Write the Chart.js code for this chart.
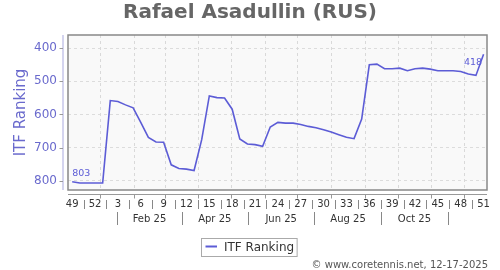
<!DOCTYPE html>
<html><head><meta charset="utf-8">
<script src="https://cdn.jsdelivr.net/npm/chart.js@4/dist/chart.umd.min.js"></script>
<style>html,body{margin:0;padding:0;background:#fff}canvas{display:block}</style>
</head><body>
<canvas id="c" width="500" height="270"></canvas>
<script>
const titleText = 'Rafael Asadullin (RUS)';
const seriesLabel = 'ITF Ranking';
const footerText = '\u00a9 www.coretennis.net, 12-17-2025';
const weekLabels = ['49','52','3','6','9','12','15','18','21','24','27','30','33','36','39','42','45','48','51'];
const rankings = [803,807,807,807,807,558,561,571,580,624,669,683,684,752,763,765,769,676,544,549,550,584,674,689,691,696,638,624,626,626,630,636,640,646,653,661,669,673,614,450,448,462,462,460,468,462,460,463,468,468,468,470,478,482,418];
const yTicks = [400,500,600,700,800];
const monthLabels = ['Feb 25','Apr 25','Jun 25','Aug 25','Oct 25'];
const labelMonthIdx = [1,3,5,7,9];
const sepMonthIdx = [0,2,4,6,8,10];
const firstPointDate = Date.UTC(2024,11,6);
const WEEK = 7*86400000;
function weekPos(m){ return (Date.UTC(2025,m,1)-firstPointDate)/WEEK; }
function monthCenter(m){ return (weekPos(m)+weekPos(m+1))/2; }

const FONT = 'DejaVu Sans';
const LINE = '#5c5cd6';
const PURPLE = '#6a6acd';

const decor = {
  id:'decor',
  beforeDraw(chart){
    const {ctx, chartArea:a} = chart;
    ctx.save(); ctx.fillStyle='#f9f9f9'; ctx.fillRect(a.left,a.top,a.width,a.height); ctx.restore();
  },
  beforeDatasetsDraw(chart){
    const {ctx, chartArea:a, scales:{x}} = chart;
    ctx.save(); ctx.strokeStyle='#d9d9d9'; ctx.lineWidth=1; ctx.setLineDash([3,3]);
    for (let m=0;m<12;m++){
      const px = Math.round(x.getPixelForValue(weekPos(m)))+0.5;
      ctx.beginPath(); ctx.moveTo(px,a.top); ctx.lineTo(px,a.bottom); ctx.stroke();
    }
    ctx.restore();
  },
  afterDraw(chart){
    const {ctx, chartArea:a, scales:{x,y}} = chart;
    const line=(x1,y1,x2,y2)=>{ctx.beginPath();ctx.moveTo(x1,y1);ctx.lineTo(x2,y2);ctx.stroke();};
    ctx.save();
    // frame
    ctx.strokeStyle='#888'; ctx.lineWidth=1.5; ctx.strokeRect(a.left,a.top,a.width,a.height);
    // y axis
    const yx = a.left-5;
    ctx.strokeStyle='#b8b8e4'; ctx.lineWidth=1.2; line(yx,a.top,yx,a.bottom);
    ctx.strokeStyle='#999'; ctx.lineWidth=1;
    yTicks.forEach(v=>{const py=Math.round(y.getPixelForValue(v))+0.5; line(yx-3.5,py,yx,py);});
    // x axis
    const xy = a.bottom+4.5;
    ctx.strokeStyle='#999'; ctx.lineWidth=1; line(a.left,xy,a.right,xy);
    for (let m=0;m<12;m++){ const px=Math.round(x.getPixelForValue(weekPos(m)))+0.5; line(px,xy,px,xy+4); }
    // week separators
    ctx.strokeStyle='#888';
    for (let k=0;k<weekLabels.length-1;k++){ const px=Math.round(x.getPixelForValue(k*3+1.5))+0.5; line(px,200,px,209); }
    // month separators and labels
    sepMonthIdx.forEach(m=>{ const px=Math.round(x.getPixelForValue(monthCenter(m)))+0.5; line(px,212,px,225); });
    ctx.fillStyle='#333'; ctx.font='10px "'+FONT+'"'; ctx.textAlign='center'; ctx.textBaseline='middle';
    labelMonthIdx.forEach((m,i)=>{ ctx.fillText(monthLabels[i], x.getPixelForValue(monthCenter(m)), 219); });
    // point labels
    const pts = chart.getDatasetMeta(0).data;
    ctx.fillStyle=LINE; ctx.font='9.5px "'+FONT+'"';
    const p0=pts[0], pN=pts[pts.length-1];
    ctx.textAlign='left'; ctx.fillText(String(rankings[0]), p0.x, p0.y-8.5);
    ctx.textAlign='right'; ctx.fillText(String(rankings[rankings.length-1]), pN.x-1.5, pN.y+8.5);
    // legend
    ctx.font='12px "'+FONT+'"'; ctx.textAlign='left';
    const tw = ctx.measureText(seriesLabel).width;
    const bx=201.5, by=238.5, bw=(224-bx)+tw+3, bh=18;
    ctx.fillStyle='#fff'; ctx.fillRect(bx,by,bw,bh);
    ctx.strokeStyle='#aaa'; ctx.lineWidth=1; ctx.strokeRect(bx,by,bw,bh);
    ctx.strokeStyle=LINE; ctx.lineWidth=2; line(205.5,246.5,217,246.5);
    ctx.fillStyle='#333'; ctx.fillText(seriesLabel, 224, 247.5);
    // footer
    ctx.font='10px "'+FONT+'"'; ctx.fillStyle='#555'; ctx.textAlign='right';
    ctx.fillText(footerText, 488, 265.5);
    ctx.restore();
  }
};

new Chart(document.getElementById('c'), {
  type:'line',
  data:{ datasets:[{ label:seriesLabel, data:rankings.map((v,i)=>({x:i,y:v})), borderColor:LINE, backgroundColor:LINE, borderWidth:1.6, pointRadius:0, tension:0, fill:false }] },
  options:{
    responsive:false, animation:false, devicePixelRatio:1,
    layout:{padding:0},
    plugins:{
      legend:{display:false}, tooltip:{enabled:false},
      title:{display:true, text:titleText, color:'#666', font:{family:FONT,size:20,weight:'bold'}, padding:{top:1,bottom:10}}
    },
    scales:{
      x:{ type:'linear', min:-0.55, max:54.45,
          afterBuildTicks(s){ s.ticks = weekLabels.map((_,k)=>({value:k*3})); },
          ticks:{ callback:(v,i)=>weekLabels[i], autoSkip:false, maxRotation:0, font:{family:FONT,size:10}, color:'#333', padding:8 },
          grid:{display:false, drawTicks:false}, border:{display:false},
          afterFit(s){ s.height=80; } },
      y:{ reverse:true, min:360, max:828,
          afterBuildTicks(s){ s.ticks = yTicks.map(v=>({value:v})); },
          ticks:{ font:{family:FONT,size:12}, color:PURPLE, padding:11 },
          grid:{ color:'#dcdcdc', drawTicks:false }, border:{display:false, dash:[3,3]},
          title:{ display:true, text:seriesLabel, color:PURPLE, font:{family:FONT,size:15}, padding:{top:12,bottom:0} },
          afterFit(s){ s.width=68; } },
      yr:{ position:'right', display:true, ticks:{display:false}, grid:{display:false}, border:{display:false},
           afterFit(s){ s.width=13; } }
    }
  },
  plugins:[decor]
});
</script>
</body></html>
